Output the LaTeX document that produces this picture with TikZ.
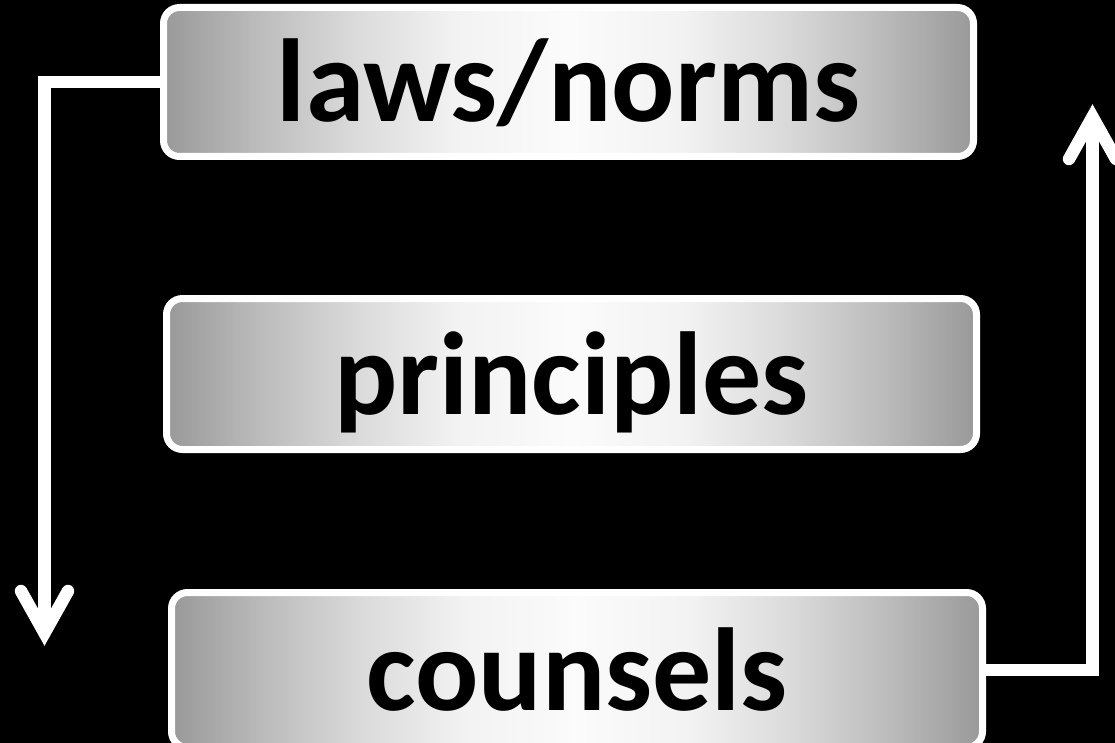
\documentclass[tikz,border=0pt]{standalone}
\usepackage{fontspec}
\setmainfont{Carlito}
\usetikzlibrary{calc}
\definecolor{edgegray}{gray}{0.6}
\definecolor{gA}{gray}{0.74}
\definecolor{gB}{gray}{0.86}
\definecolor{gC}{gray}{0.95}
\definecolor{gD}{gray}{0.985}
\pgfdeclarehorizontalshading{boxshade}{100bp}{color(0bp)=(edgegray); color(25bp)=(edgegray); color(31bp)=(gA); color(37bp)=(gB); color(43bp)=(gC); color(50bp)=(gD); color(57bp)=(gC); color(63bp)=(gB); color(69bp)=(gA); color(75bp)=(edgegray); color(100bp)=(edgegray)}
\begin{document}
\begin{tikzpicture}[x=1pt,y=-1pt,
  box/.style={draw=white, line width=7pt, rounded corners=16pt,
    shading=boxshade,
    minimum width=810pt, inner sep=0pt, text=black,
    font=\fontsize{118}{118}\selectfont\bfseries,
    text height=88pt, text depth=8pt},
  conn/.style={draw=white, line width=12.5pt, line join=miter},
  tipline/.style={draw=white, line width=12.5pt, line join=miter, line cap=round}]
\useasboundingbox (0,0) rectangle (1115,743);
\fill[black] (0,0) rectangle (1115,743);
\clip (0,0) rectangle (1115,743);
\node[box, minimum height=149pt] (laws) at (568.5,82) {laws/norms};
\node[box, minimum height=151pt] (princ) at (571.5,374) {principles};
\node[box, minimum height=155pt, minimum width=811pt] (couns) at (577,670) {counsels};
\coordinate (ltip) at (44.5,633);
\coordinate (rtip) at (1092.5,117);
\draw[conn] (laws.west) -| (ltip);
\draw[conn] (couns.east) -| (rtip);
\draw[tipline] ($(ltip)+(-23.5,-42)$) -- (ltip) -- ($(ltip)+(23.5,-42)$);
\draw[tipline] ($(rtip)+(-23.5,42)$) -- (rtip) -- ($(rtip)+(23.5,42)$);
\end{tikzpicture}
\end{document}
